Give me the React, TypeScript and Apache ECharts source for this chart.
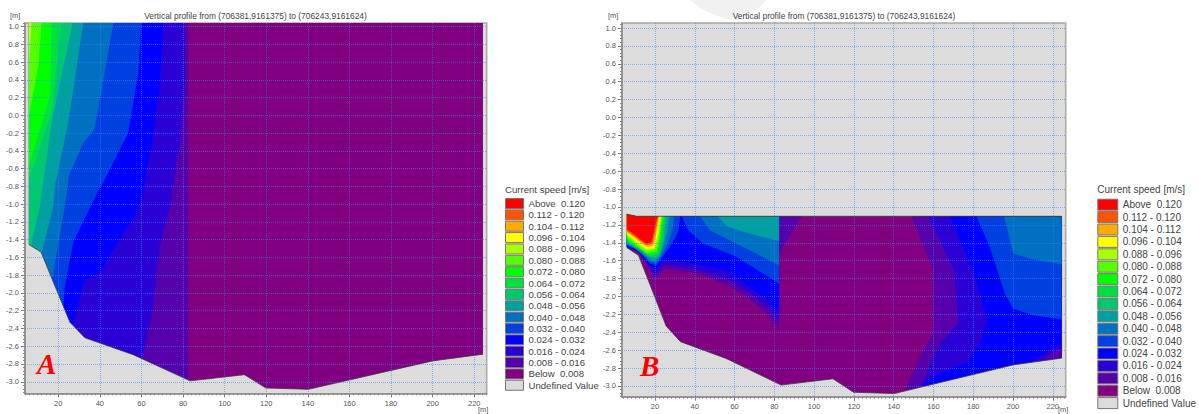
import React, { useEffect, useRef } from "react";
import * as echarts from "echarts";

type Pt = number[];

const TITLE = "Vertical profile from (706381,9161375) to (706243,9161624)";
const LEGEND_TITLE = "Current speed [m/s]";

const speedClasses = [
  "Above  0.120", "0.112 - 0.120", "0.104 - 0.112", "0.096 - 0.104", "0.088 - 0.096",
  "0.080 - 0.088", "0.072 - 0.080", "0.064 - 0.072", "0.056 - 0.064", "0.048 - 0.056",
  "0.040 - 0.048", "0.032 - 0.040", "0.024 - 0.032", "0.016 - 0.024", "0.008 - 0.016",
  "Below  0.008", "Undefined Value",
];
const classColors = [
  "#ff0000", "#ff5500", "#ffaa00", "#ffff00", "#aaff00",
  "#55ff00", "#00ff00", "#00e040", "#00c86e", "#00a0a0",
  "#0070c0", "#0040e0", "#0000ff", "#2a00d5", "#5500aa",
  "#800080", "#dcdcdc",
];

const xTicks = [20, 40, 60, 80, 100, 120, 140, 160, 180, 200, 220];
const yTicks = [1, 0.8, 0.6, 0.4, 0.2, 0, -0.2, -0.4, -0.6, -0.8, -1, -1.2, -1.4, -1.6, -1.8, -2, -2.2, -2.4, -2.6, -2.8, -3];
const xMinorTicks = Array.from({ length: 112 }, (_, i) => 4 + i * 2);
const yMinorTicks = Array.from({ length: 105 }, (_, i) => Math.round((-3.12 + i * 0.04) * 100) / 100);

const bed: Pt[] = [[5.9, -1.455], [11.7, -1.54], [25.6, -2.33], [32.8, -2.505], [56, -2.695], [83.4, -2.99], [109.5, -2.92], [119.8, -3.07], [140.3, -3.085], [200, -2.765], [224.2, -2.69]];
const surfaceB: Pt[] = [[5.8, -1.08], [10.8, -1.104], [224.4, -1.104]];

// Panel A: right-hand limit of each speed class, from the top of the section to the bed
const a096: Pt[] = [[6.4, 1.04], [5.9, 0.82]];
const a088: Pt[] = [[7.2, 1.04], [5.9, 0.55]];
const a080: Pt[] = [[12, 1.04], [10.4, 0.55], [5.9, 0]];
const a072: Pt[] = [[16.8, 1.04], [16, 0.22], [5.9, -0.57]];
const a064: Pt[] = [[21.6, 1.04], [16.8, 0.03], [5.9, -0.72]];
const a056: Pt[] = [[26.9, 1.04], [16.8, -0.08], [11.2, -1.02], [7.2, -1.43]];
const a048: Pt[] = [[32, 1.04], [24.8, -0.08], [18.4, -0.79], [17.6, -1.02], [17.3, -1.06], [12, -1.55]];
const a040: Pt[] = [[46.5, 1.04], [39.2, 0.07], [37.3, -0.16], [32, -0.31], [25.1, -0.68], [23.2, -1.02], [17, -1.85]];
const a032: Pt[] = [[60.1, 1.04], [58.5, 0.48], [53.7, -0.19], [46.5, -0.53], [35.6, -1.02], [27.2, -1.43], [23.2, -1.92], [22.4, -2.18]];
const a024: Pt[] = [[70.5, 1.04], [68.6, 0.29], [64.9, -0.34], [60.1, -0.91], [56.9, -1.13], [46.5, -1.51], [40, -1.77], [32.3, -1.86], [27.2, -2.37]];
const a016: Pt[] = [[80.6, 1.04], [80.9, 0.37], [78.5, -0.31], [73.7, -1.02], [68.9, -1.47], [67.3, -1.77], [64.9, -2.26], [60.6, -2.71]];
const a008: Pt[] = [[82.5, 1.04], [82.5, -3.0]];
const aClosure: Pt[] = [[5.9, -3.13], [5.9, 1.04]];

// Panel B, left cell block (x below 82.4): lower limits of the weak classes
const bTop: Pt[] = [[5.8, -1.08], [10.8, -1.104]];
const bl008: Pt[] = [[82.4, -1.104], [82.4, -2.36], [76.1, -2.19], [67.7, -2.03], [56, -1.864], [42.6, -1.75], [25, -1.69], [20, -1.8], [15, -1.63], [11.6, -1.5], [5.8, -1.447]];
const bl016: Pt[] = [[82.4, -1.104], [82.4, -2.273], [76.1, -2.11], [67.7, -1.96], [56, -1.8], [42.6, -1.715], [25, -1.64], [20, -1.763], [16.7, -1.65], [11.3, -1.5], [5.8, -1.447]];
const bl024: Pt[] = [[82.4, -1.104], [82.4, -2.173], [76.1, -2.024], [67.7, -1.901], [56, -1.707], [42.6, -1.652], [25, -1.588], [20, -1.7], [15.8, -1.6], [11.1, -1.49], [5.8, -1.447]];
const bl032: Pt[] = [[33.4, -1.104], [36.7, -1.26], [44.3, -1.41], [59.3, -1.54], [67.7, -1.652], [82.4, -1.856], [82.4, -1.104]];
const bl040: Pt[] = [[42.6, -1.104], [47.6, -1.26], [59.3, -1.39], [67.7, -1.484], [82.4, -1.652], [82.4, -1.104]];
const bl048: Pt[] = [[51.3, -1.104], [56.8, -1.223], [67.7, -1.298], [82.4, -1.38], [82.4, -1.104]];
const bWedge008: Pt[] = [[82.4, -1.104], [93.6, -1.104], [82.4, -1.52]];

// Panel B: the fast core beside the left bank
const core032: Pt[] = [[32.6, -1.104], [31.7, -1.28], [27.5, -1.447], [24.2, -1.54], [20.8, -1.652], [17.5, -1.633], [14.1, -1.55], [10, -1.47], [5.8, -1.43]];
const core040: Pt[] = [[29.5, -1.104], [28.9, -1.26], [25.9, -1.44], [23.3, -1.54], [20.5, -1.63], [17.5, -1.61], [13.3, -1.52], [9.1, -1.45], [5.8, -1.42]];
const core048: Pt[] = [[27.2, -1.104], [25.9, -1.3], [24.2, -1.44], [22.5, -1.55], [20, -1.6], [17.5, -1.59], [12.8, -1.5], [8.3, -1.44], [5.8, -1.41]];
const core056: Pt[] = [[25.5, -1.104], [24.5, -1.35], [23, -1.5], [20.5, -1.57], [17.5, -1.56], [12.5, -1.475], [7.4, -1.42], [5.8, -1.395]];
const core064: Pt[] = [[24.7, -1.104], [23.5, -1.35], [21.7, -1.53], [17.2, -1.545], [11.6, -1.46], [7.4, -1.405], [5.8, -1.38]];
const core072: Pt[] = [[24.2, -1.104], [23, -1.34], [21.2, -1.52], [16.2, -1.53], [11.1, -1.45], [7.4, -1.39], [5.8, -1.355]];
const core080: Pt[] = [[23.7, -1.104], [22.5, -1.32], [20.8, -1.5], [15.8, -1.51], [11.1, -1.435], [7.4, -1.375], [5.8, -1.335]];
const core088: Pt[] = [[23.2, -1.104], [22, -1.3], [20.3, -1.473], [15.8, -1.49], [11.1, -1.42], [7.8, -1.355], [5.8, -1.315]];
const core096: Pt[] = [[22.7, -1.104], [21.5, -1.28], [19.8, -1.455], [15.8, -1.469], [11.5, -1.4], [8.3, -1.34], [5.8, -1.298]];
const core104: Pt[] = [[22.2, -1.104], [21, -1.26], [19.3, -1.43], [15.8, -1.447], [11.8, -1.385], [8.8, -1.33], [5.8, -1.285]];
const core112: Pt[] = [[21.7, -1.104], [20.5, -1.24], [18.8, -1.41], [15.8, -1.428], [12.1, -1.37], [9.1, -1.32], [5.8, -1.27]];
const core120: Pt[] = [[21.2, -1.104], [20, -1.22], [18.3, -1.39], [15.8, -1.41], [12.5, -1.36], [9.1, -1.3], [5.8, -1.25]];

// Panel B, right-hand side
const brClosure: Pt[] = [[224.4, -3.13], [224.4, -1.104]];
const br008: Pt[] = [[149, -1.104], [159.9, -1.707], [159.9, -2.396], [151.5, -2.75], [144.8, -3.1]];
const br016: Pt[] = [[157.4, -1.104], [170.3, -1.707], [172.6, -2.296], [163.2, -2.526], [153.5, -3.01]];
const br024: Pt[] = [[168.2, -1.104], [180, -1.707], [187, -2.266], [184.2, -2.489], [177.5, -2.731], [163.2, -2.861], [154, -2.99]];
const br032: Pt[] = [[181.6, -1.104], [188.3, -1.447], [195.9, -1.968], [200.1, -2.136], [210.1, -2.21], [224.4, -2.258], [224.4, -1.104]];
const br040: Pt[] = [[195.5, -1.104], [200.1, -1.521], [210.1, -1.588], [224.4, -1.64], [224.4, -1.104]];
const corner016: Pt[] = [[224.4, -2.526], [216.8, -2.62], [209.3, -2.739], [224.4, -2.72]];
const corner008: Pt[] = [[224.4, -2.582], [218.5, -2.646], [215.1, -2.694], [224.4, -2.72]];

const maskTail: Pt[] = [[224.2, -2.69], [225, -2.69], [225, -3.14], [5, -3.14], [5, -1.455]];

const cls = (label: string) => speedClasses.indexOf(label);

function polySeries(panel: number, label: string, rings: Pt[][], z: number) {
  return {
    type: "custom",
    name: label,
    coordinateSystem: "cartesian2d",
    xAxisIndex: panel,
    yAxisIndex: panel,
    z,
    silent: true,
    clip: true,
    itemStyle: { color: classColors[cls(label)] },
    data: rings.map((_, i) => [xTicks[0], i]),
    encode: { x: 0, y: 1 },
    renderItem: (params: any, api: any) => ({
      type: "polygon",
      shape: { points: rings[params.dataIndex].map((p) => api.coord(p)) },
      style: { fill: classColors[cls(label)] },
    }),
  };
}

function lineSeries(panel: number, name: string, pts: Pt[], z: number) {
  return {
    type: "custom",
    name,
    coordinateSystem: "cartesian2d",
    xAxisIndex: panel,
    yAxisIndex: panel,
    z,
    silent: true,
    clip: true,
    data: [[xTicks[0], 0]],
    encode: { x: 0, y: 1 },
    renderItem: (_: any, api: any) => ({
      type: "polyline",
      shape: { points: pts.map((p) => api.coord(p)) },
      style: { fill: "none", stroke: "#3c3c3c", lineWidth: 0.8 },
    }),
  };
}

function buildSeries() {
  const L = speedClasses;
  const panelA: [string, Pt[][]][] = [
    [L[15], [[[5.9, 1.04], [224.2, 1.04], [224.2, -3.13], [5.9, -3.13]]]],
    [L[14], [[...a008, ...aClosure]]],
    [L[13], [[...a016, ...aClosure]]],
    [L[12], [[...a024, ...aClosure]]],
    [L[11], [[...a032, ...aClosure]]],
    [L[10], [[...a040, ...aClosure]]],
    [L[9], [[...a048, ...aClosure]]],
    [L[8], [[...a056, ...aClosure]]],
    [L[7], [[...a064, ...aClosure]]],
    [L[6], [[...a072, ...aClosure]]],
    [L[5], [[...a080, ...aClosure]]],
    [L[4], [[...a088, ...aClosure]]],
    [L[3], [[...a096, ...aClosure]]],
  ];
  const panelB: [string, Pt[][]][] = [
    [L[15], [[...surfaceB, [224.4, -3.13], [5.8, -3.13]]]],
    [L[14], [[...bl008, ...bTop], bWedge008, [...br008, ...brClosure]]],
    [L[13], [[...bl016, ...bTop], [...br016, ...brClosure]]],
    [L[12], [[...bl024, ...bTop], [...br024, ...brClosure]]],
    [L[13], [corner016]],
    [L[14], [corner008]],
    [L[11], [bl032, [...core032, ...bTop], br032]],
    [L[10], [bl040, [...core040, ...bTop], br040]],
    [L[9], [bl048, [...core048, ...bTop]]],
    [L[8], [[...core056, ...bTop]]],
    [L[7], [[...core064, ...bTop]]],
    [L[6], [[...core072, ...bTop]]],
    [L[5], [[...core080, ...bTop]]],
    [L[4], [[...core088, ...bTop]]],
    [L[3], [[...core096, ...bTop]]],
    [L[2], [[...core104, ...bTop]]],
    [L[1], [[...core112, ...bTop]]],
    [L[0], [[...core120, ...bTop]]],
  ];
  const out: any[] = [];
  panelA.forEach(([n, r], i) => out.push(polySeries(0, n, r, 2 + i)));
  panelB.forEach(([n, r], i) => out.push(polySeries(1, n, r, 2 + i)));
  [0, 1].forEach((panel) => {
    out.push(polySeries(panel, L[16], [[...bed, ...maskTail]], 40));
    out.push(lineSeries(panel, "Bed", bed, 41));
  });
  out.push(lineSeries(1, "Surface", surfaceB, 41));
  return out;
}

const labelStyle = { fontFamily: "Liberation Sans", fontSize: 7.5, color: "#555" };
const gridLine = { show: true, lineStyle: { color: "rgba(60,130,255,0.55)", type: "dotted", width: 1 } };

function mainXAxis(min: number, max: number, gridIndex: number) {
  return {
    type: "value", gridIndex, min, max, z: 60, position: "bottom",
    axisLine: { show: true, onZero: false, lineStyle: { color: "#888", width: 1.5 } },
    axisTick: { show: true, length: 4, customValues: xTicks, lineStyle: { color: "#777" } },
    axisLabel: { ...labelStyle, margin: 6, customValues: xTicks },
    splitLine: gridLine,
  };
}
function mainYAxis(min: number, max: number, gridIndex: number) {
  return {
    type: "value", gridIndex, min, max, z: 60, position: "left",
    axisLine: { show: true, onZero: false, lineStyle: { color: "#888", width: 1.5 } },
    axisTick: { show: true, length: 4, customValues: yTicks, lineStyle: { color: "#777" } },
    axisLabel: { ...labelStyle, margin: 6, customValues: yTicks, formatter: (v: number) => v.toFixed(1) },
    splitLine: gridLine,
  };
}
function minorXAxis(min: number, max: number, gridIndex: number) {
  return {
    type: "value", gridIndex, min, max, z: 60, position: "bottom",
    axisLine: { show: false, onZero: false },
    axisTick: { show: true, length: 2, customValues: xMinorTicks, lineStyle: { color: "#888" } },
    axisLabel: { show: false },
    splitLine: { show: false },
  };
}
function minorYAxis(min: number, max: number, gridIndex: number) {
  return {
    type: "value", gridIndex, min, max, z: 60, position: "left",
    axisLine: { show: false, onZero: false },
    axisTick: { show: true, length: 2, customValues: yMinorTicks, lineStyle: { color: "#888" } },
    axisLabel: { show: false },
    splitLine: { show: false },
  };
}

function unitText(x: number, y: number) {
  return { type: "text", x, y, z: 70, style: { text: "[m]", font: "7.5px 'Liberation Sans'", fill: "#555" } };
}

const titleStyle = { fontFamily: "Liberation Sans", fontSize: 8.4, fontWeight: "normal", color: "#444" };

function buildOption() {
  return {
    animation: false,
    backgroundColor: "#ffffff",
    title: [
      { text: TITLE, left: 255.5, top: 12, padding: 0, textAlign: "center", textStyle: titleStyle },
      { text: TITLE, left: 844, top: 12, padding: 0, textAlign: "center", textStyle: titleStyle },
    ],
    grid: [
      { left: 25, top: 23, width: 461.7, height: 370.3, show: true, backgroundColor: "#dcdcdc", borderColor: "#a8a8a8", borderWidth: 1.5 },
      { left: 622, top: 23, width: 443.7, height: 373.7, show: true, backgroundColor: "#dcdcdc", borderColor: "#a8a8a8", borderWidth: 1.5 },
    ],
    xAxis: [mainXAxis(4, 226, 0), mainXAxis(3.4, 226.5, 1), minorXAxis(4, 226, 0), minorXAxis(3.4, 226.5, 1)],
    yAxis: [mainYAxis(-3.13, 1.04, 0), mainYAxis(-3.12, 1.056, 1), minorYAxis(-3.13, 1.04, 0), minorYAxis(-3.12, 1.056, 1)],
    legend: [
      {
        show: true, orient: "vertical", left: 505, top: 198, data: speedClasses, icon: "rect",
        itemWidth: 18, itemHeight: 10, itemGap: 0.36, selectedMode: false,
        itemStyle: { borderColor: "#777", borderWidth: 1 },
        textStyle: { fontFamily: "Liberation Sans", fontSize: 9.6, lineHeight: 10, color: "#444" },
        padding: 0,
      },
      {
        show: true, orient: "vertical", left: 1097.3, top: 198.7, data: speedClasses, icon: "rect",
        itemWidth: 20, itemHeight: 11, itemGap: 0.4, selectedMode: false,
        itemStyle: { borderColor: "#777", borderWidth: 1 },
        textStyle: { fontFamily: "Liberation Sans", fontSize: 10, lineHeight: 11, color: "#444" },
        padding: 0,
      },
    ],
    graphic: [
      { type: "polygon", z: -1, shape: { points: [[690, 0], [700, 8], [714, 15], [731, 20], [748, 15], [760, 7], [767, 0]] }, style: { fill: "#f1f1f1" } },
      { type: "text", x: 505, y: 184, z: 70, style: { text: LEGEND_TITLE, font: "9.6px 'Liberation Sans'", fill: "#444" } },
      { type: "text", x: 1097.3, y: 184, z: 70, style: { text: LEGEND_TITLE, font: "10px 'Liberation Sans'", fill: "#444" } },
      { type: "text", x: 37, y: 349, z: 70, style: { text: "A", font: "italic bold 29px 'Liberation Serif'", fill: "#ff0000" } },
      { type: "text", x: 640, y: 351, z: 70, style: { text: "B", font: "italic bold 29px 'Liberation Serif'", fill: "#ff0000" } },
      unitText(10, 11), unitText(478, 405), unitText(608, 11), unitText(1058, 405),
    ],
    series: buildSeries(),
  };
}

export default function App() {
  const ref = useRef<HTMLDivElement>(null);
  useEffect(() => {
    const chart = echarts.init(ref.current!, undefined, { renderer: "svg" });
    chart.setOption(buildOption() as any);
    return () => chart.dispose();
  }, []);
  return <div ref={ref} style={{ position: "absolute", left: 0, top: 0, width: 1199, height: 414 }} />;
}
